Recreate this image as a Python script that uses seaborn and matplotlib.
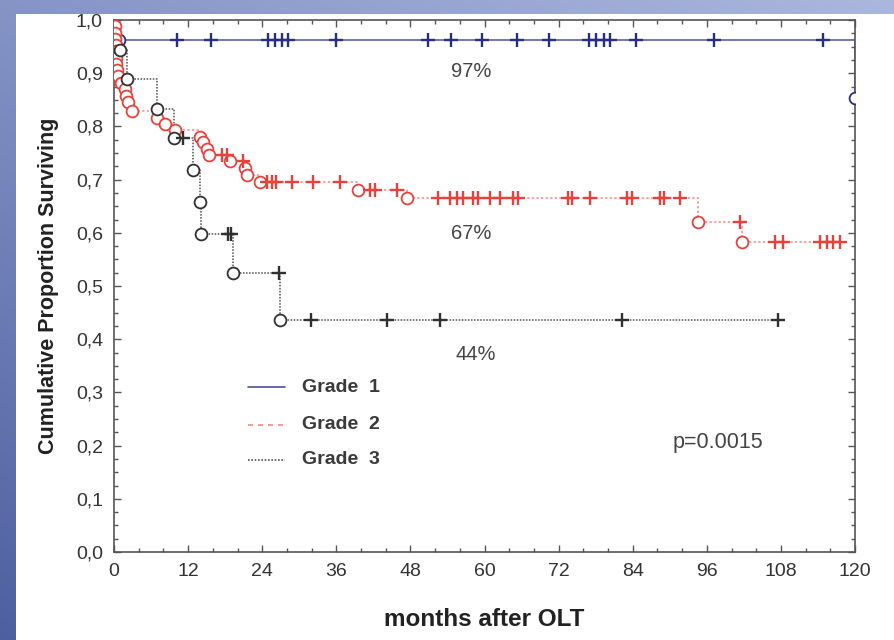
import numpy as np
import pandas as pd
import matplotlib
matplotlib.use("Agg")
import matplotlib.pyplot as plt
from matplotlib.patches import Rectangle
from matplotlib.ticker import MultipleLocator, FuncFormatter
from matplotlib.lines import Line2D
import seaborn as sns

sns.set_theme(style="white")
plt.rcParams["font.family"] = ["Liberation Sans", "DejaVu Sans"]

# ---------------- data ----------------
# Grade 1
g1_event_t = [0.8, 120.0]
g1_event_s = [0.962, 0.853]
g1_cens_t = [10.2, 15.7, 24.9, 26.1, 27.2, 28.2, 36.0, 50.9, 54.6, 59.6,
             65.3, 70.5, 77.0, 78.1, 79.4, 80.3, 84.5, 97.2, 114.8]

# Grade 2
g2_event_t = [0.1, 0.15, 0.2, 0.25, 0.3, 0.35, 0.4, 0.5, 0.7, 1.1, 1.8, 2.0, 2.3, 2.9,
              7.0, 8.3, 9.9, 13.9, 14.4, 15.1, 15.4, 18.8, 21.2, 21.5, 23.6,
              39.5, 47.4, 94.6, 101.7]
g2_event_s = [0.988, 0.976, 0.965, 0.953, 0.941, 0.929, 0.917, 0.906, 0.894, 0.882,
              0.870, 0.858, 0.845, 0.829,
              0.816, 0.805, 0.794, 0.781, 0.770, 0.758, 0.746, 0.735, 0.722, 0.709, 0.695,
              0.680, 0.666, 0.621, 0.582]
g2_cens_t = [17.5, 18.3, 20.9, 24.8, 25.6, 26.2, 28.8, 32.2, 36.6, 41.5, 42.3, 45.8,
             52.5, 54.4, 55.5, 56.5, 58.1, 58.9, 60.9, 62.5, 64.6, 65.4, 73.5, 74.2,
             77.1, 83.1, 83.9, 88.4, 89.1, 91.7, 101.4, 107.0, 108.3, 114.3, 115.5,
             116.4, 117.6]

# Grade 3
g3_event_t = [1.0, 2.1, 7.0, 9.7, 12.8, 13.9, 14.1, 19.3, 26.9]
g3_event_s = [0.944, 0.889, 0.833, 0.778, 0.718, 0.658, 0.598, 0.524, 0.437]
g3_cens_t = [11.2, 18.5, 19.0, 26.7, 31.9, 44.2, 52.8, 82.3, 107.5]

grade_labels = ["Grade  1", "Grade  2", "Grade  3"]
x_ticks = [0, 12, 24, 36, 48, 60, 72, 84, 96, 108, 120]
y_ticks = [0.0, 0.1, 0.2, 0.3, 0.4, 0.5, 0.6, 0.7, 0.8, 0.9, 1.0]
annotations = [("97%", 57.8, 0.903, 14.5), ("67%", 57.8, 0.599, 14.5),
               ("44%", 58.6, 0.372, 14.5), ("p=0.0015", 97.8, 0.205, 15.5)]

# ---------------- helpers ----------------
def step_path(ev_t, ev_s, cens_t):
    end = max(max(ev_t), max(cens_t))
    t = [0.0] + list(ev_t)
    s = [1.0] + list(ev_s)
    if end > t[-1]:
        t.append(end)
        s.append(s[-1])
    return pd.DataFrame({"t": t, "s": s})


def surv_at(ev_t, ev_s, times):
    ev_t = np.asarray(ev_t)
    ev_s = np.asarray(ev_s)
    out = []
    for tt in times:
        idx = np.searchsorted(ev_t, tt, side="right") - 1
        out.append(1.0 if idx < 0 else ev_s[idx])
    return pd.DataFrame({"t": times, "s": out})


# ---------------- figure ----------------
W, H = 894, 640
fig = plt.figure(figsize=(W / 100, H / 100), dpi=100)

# background: blue gradient frame on left and top
bg = fig.add_axes([0, 0, 1, 1], zorder=0)
yy, xx = np.mgrid[0:H, 0:W]
tval = 0.6 * (1 - yy / H) + 0.4 * (xx / W)
dark = np.array([78, 95, 160]) / 255
light = np.array([170, 184, 222]) / 255
img = dark[None, None, :] * (1 - tval[..., None]) + light[None, None, :] * tval[..., None]
bg.imshow(img, extent=[0, 1, 0, 1], aspect="auto", origin="upper")
bg.add_patch(Rectangle((16 / W, 0), 1 - 16 / W, (H - 14) / H, color="white",
                       transform=bg.transAxes, lw=0))
bg.set_xlim(0, 1)
bg.set_ylim(0, 1)
bg.axis("off")

ax = fig.add_axes([114 / W, (H - 552) / H, (855 - 114) / W, (552 - 20) / H], zorder=1)
ax.set_facecolor("white")

styles = {
    "g1": dict(line="#4a4fa0", mark="#2a2e80", ls="-", lw=1.1),
    "g2": dict(line="#f08a84", mark="#e8413b", ls=(0, (1.5, 1.5)), lw=1.1),
    "g3": dict(line="#505050", mark="#303030", ls=(0, (1, 1)), lw=1.1),
}

groups = [("g1", g1_event_t, g1_event_s, g1_cens_t),
          ("g2", g2_event_t, g2_event_s, g2_cens_t),
          ("g3", g3_event_t, g3_event_s, g3_cens_t)]

for key, et, es, ct in groups:
    st = styles[key]
    path = step_path(et, es, ct)
    sns.lineplot(data=path, x="t", y="s", ax=ax, estimator=None, sort=False,
                 drawstyle="steps-post", color=st["line"], linestyle=st["ls"],
                 linewidth=st["lw"], zorder=2)
    ev = pd.DataFrame({"t": et, "s": es})
    sns.lineplot(data=ev, x="t", y="s", ax=ax, estimator=None, sort=False,
                 linestyle="", marker="o", markersize=8.5, markerfacecolor="white",
                 markeredgecolor=st["mark"], markeredgewidth=1.3, color=st["mark"],
                 zorder=3)
    cz = surv_at(et, es, ct)
    sns.lineplot(data=cz, x="t", y="s", ax=ax, estimator=None, sort=False,
                 linestyle="", marker="+", markersize=10, markeredgecolor=st["mark"],
                 markeredgewidth=1.7, color=st["mark"], zorder=4)

ax.set_xlim(0, 120)
ax.set_ylim(0, 1.0)
ax.set_xticks(x_ticks)
ax.set_yticks(y_ticks)
ax.xaxis.set_minor_locator(MultipleLocator(4))
ax.yaxis.set_minor_locator(MultipleLocator(0.025))
ax.yaxis.set_major_formatter(FuncFormatter(lambda v, p: f"{v:.1f}".replace(".", ",")))
ax.tick_params(which="both", direction="in", top=True, right=True, bottom=True,
               left=True, colors="#555555", labelcolor="#333333")
ax.tick_params(which="major", length=5, width=1, labelsize=14, pad=8)
ax.tick_params(which="minor", length=3, width=1)
for sp in ax.spines.values():
    sp.set_color("#555555")
    sp.set_linewidth(1.2)
    sp.set_visible(True)

ax.set_xlabel("months after OLT", fontsize=17.5, fontweight="bold", color="#222222",
              labelpad=20)
ax.set_ylabel("Cumulative Proportion Surviving", fontsize=15.5, fontweight="bold",
              color="#222222", labelpad=12)

for txt, x, y, fs in annotations:
    ax.text(x, y, txt, fontsize=fs, color="#444444", ha="center", va="center")

# legend drawn in axes coordinates
leg_rows = [0.310, 0.239, 0.173]
for key, lab, yr in zip(["g1", "g2", "g3"], grade_labels, leg_rows):
    st = styles[key]
    ls = st["ls"] if key != "g2" else (0, (3, 3))
    ax.add_line(Line2D([0.181, 0.231], [yr, yr], transform=ax.transAxes,
                       color=st["line"], linestyle=ls, linewidth=1.2))
    ax.text(0.254, yr, lab, transform=ax.transAxes, fontsize=14, fontweight="bold",
            color="#3a3a3a", va="center", ha="left")

fig.savefig("out.png", dpi=100)
